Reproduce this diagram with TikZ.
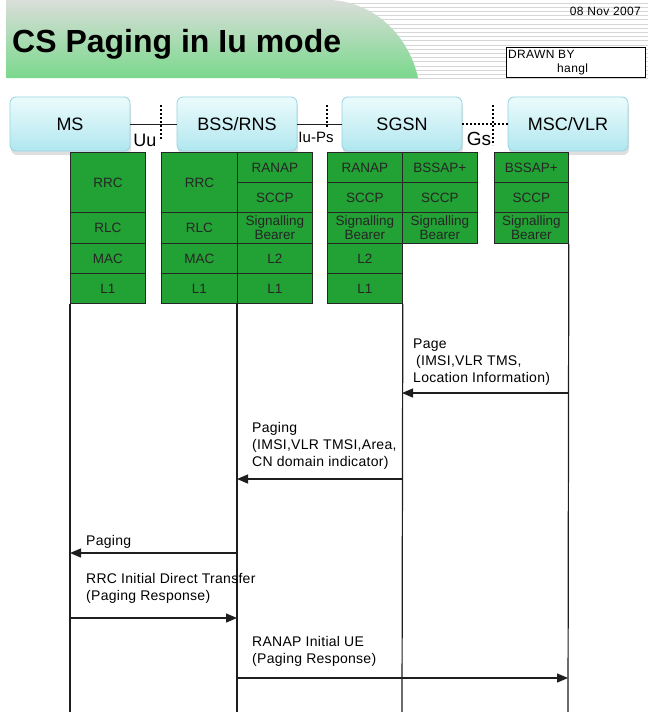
\documentclass[tikz,border=0pt]{standalone}
\usepackage{fontspec}
\setmainfont{Liberation Sans}
\newfontfamily\widefont[LetterSpace=3]{Liberation Sans}
\newfontfamily\msgfam[LetterSpace=2]{Liberation Sans}
\usetikzlibrary{arrows.meta,shadows}
\definecolor{stackgreen}{RGB}{34,161,52}
\definecolor{entTop}{RGB}{236,251,252}
\definecolor{entBot}{RGB}{176,231,239}
\definecolor{entDraw}{RGB}{150,212,225}
\definecolor{hdrTop}{RGB}{218,222,218}
\definecolor{hdrBot}{RGB}{122,216,140}
\definecolor{stripecol}{RGB}{214,214,214}
\definecolor{linecol}{RGB}{30,30,30}
\begin{document}
\begin{tikzpicture}[x=1pt,y=-1pt,
  ent/.style={rounded corners=6pt, minimum width=120pt, minimum height=54pt,
    top color=entTop, bottom color=entBot, draw=entDraw, line width=0.8pt,
    drop shadow={opacity=0.25, shadow xshift=1pt, shadow yshift=-4pt},
    font=\fontsize{18}{20}\selectfont, inner sep=0pt},
  cell/.style={draw=black!85, fill=stackgreen, line width=0.8pt, minimum width=75pt,
    minimum height=30pt, inner sep=0pt, anchor=north west, align=center,
    font=\fontsize{13.5}{15}\selectfont, text=black!85},
  link/.style={draw=linecol, line width=1pt},
  dotlink/.style={draw=black, line width=1.2pt, dash pattern=on 2pt off 2pt},
  life/.style={draw=linecol, line width=1.2pt},
  msg/.style={draw=linecol, line width=1.3pt, -{Triangle[length=11pt,width=9pt]}},
  lbl/.style={anchor=south west, inner sep=0pt, align=left,
    font=\msgfam\fontsize{14}{17}\selectfont},
  small/.style={inner sep=0pt, font=\widefont\fontsize{12}{14}\selectfont},
  stripe/.style={draw=stripecol, line width=1pt}]
\useasboundingbox (0,0) rectangle (650,712);
\fill[white] (0,0) rectangle (650,712);

% header
\foreach \i in {0,...,18} \draw[stripe] (280,{3+4.2*\i}) -- (648,{3+4.2*\i});
\shade[top color=hdrTop, bottom color=hdrBot] (6,0) -- (330,0) .. controls (378,2) and (410,40) .. (418,78) -- (6,78) -- cycle;
\node[anchor=base west, inner sep=0pt, font=\fontsize{32}{38}\selectfont\bfseries] (title) at (12,52) {CS Paging in Iu mode};
\node[small, anchor=base east] (date) at (641,15) {08 Nov 2007};
\node[draw=black, fill=white, line width=1pt, anchor=north west, minimum width=139pt, minimum height=30pt, inner sep=0pt] (drawnbox) at (506,47) {};
\node[small, anchor=base west] (drawnby) at (508,58) {DRAWN BY};
\node[small, anchor=base west] (author) at (557,72) {hangl};

% entities
\node[ent] (ms) at (70,124) {MS};
\node[ent] (bss) at (237,124) {BSS/RNS};
\node[ent] (sgsn) at (402,124) {SGSN};
\node[ent] (msc) at (568,124) {MSC/VLR};

\draw[link] (ms.east) -- (bss.west);
\draw[link] (bss.east) -- (sgsn.west);
\draw[dotlink] (sgsn.east) -- (msc.west);
\coordinate (uuT) at (161,105); \coordinate (uuB) at (161,140);
\coordinate (iuT) at (327,105); \coordinate (iuB) at (327,127);
\coordinate (gsT) at (493,105); \coordinate (gsB) at (493,145);
\draw[dotlink] (uuT) -- (uuB);
\draw[dotlink] (iuT) -- (iuB);
\draw[dotlink] (gsT) -- (gsB);
\node[inner sep=0pt, font=\fontsize{18}{20}\selectfont] (uu) at (145,140) {Uu};
\node[inner sep=0pt, font=\fontsize{15}{17}\selectfont] (iups) at (316,137) {Iu-Ps};
\node[inner sep=0pt, font=\fontsize{19}{21}\selectfont] (gs) at (479,139) {Gs};

% MS stack
\node[cell, minimum height=60pt] (msRRC) at (70,152) {RRC};
\node[cell, minimum height=31pt] (msRLC) at (70,212) {RLC};
\node[cell] (msMAC) at (70,243) {MAC};
\node[cell] (msL1) at (70,273) {L1};
% BSS/RNS stack
\node[cell, minimum width=76pt, minimum height=60pt] (bRRC) at (161,152) {RRC};
\node[cell, minimum width=76pt, minimum height=31pt] (bRLC) at (161,212) {RLC};
\node[cell, minimum width=76pt] (bMAC) at (161,243) {MAC};
\node[cell, minimum width=76pt] (bL1) at (161,273) {L1};
\node[cell] (bRANAP) at (237,152) {RANAP};
\node[cell] (bSCCP) at (237,182) {SCCP};
\node[cell, minimum height=31pt] (bSB) at (237,212) {Signalling\\[-1.5pt]Bearer};
\node[cell] (bL2) at (237,243) {L2};
\node[cell] (bRL1) at (237,273) {L1};
% SGSN stack
\node[cell] (sRANAP) at (327,152) {RANAP};
\node[cell] (sSCCP) at (327,182) {SCCP};
\node[cell, minimum height=31pt] (sSB) at (327,212) {Signalling\\[-1.5pt]Bearer};
\node[cell] (sL2) at (327,243) {L2};
\node[cell] (sL1) at (327,273) {L1};
\node[cell] (sBSSAP) at (402,152) {BSSAP+};
\node[cell] (sSCCP2) at (402,182) {SCCP};
\node[cell, minimum height=31pt] (sSB2) at (402,212) {Signalling\\[-1.5pt]Bearer};
% MSC/VLR stack
\node[cell, minimum width=74pt] (mBSSAP) at (494,152) {BSSAP+};
\node[cell, minimum width=74pt] (mSCCP) at (494,182) {SCCP};
\node[cell, minimum width=74pt, minimum height=31pt] (mSB) at (494,212) {Signalling\\[-1.5pt]Bearer};

% lifelines
\coordinate (msEnd) at (70,712);
\coordinate (bssEnd) at (237,712);
\coordinate (sgsnEnd) at (402,712);
\coordinate (mscEnd) at (568,712);
\draw[life] (msL1.south west) -- (msEnd);
\draw[life] (bRL1.south west) -- (bssEnd);
\draw[life] (sL1.south east) -- (sgsnEnd);
\draw[life] (mSB.south east) -- (mscEnd);

% messages
\coordinate (m1s) at (568,393); \coordinate (m1e) at (402,393);
\coordinate (m2s) at (402,479); \coordinate (m2e) at (237,479);
\coordinate (m3s) at (237,553); \coordinate (m3e) at (70,553);
\coordinate (m4s) at (70,618);  \coordinate (m4e) at (237,618);
\coordinate (m5s) at (237,678); \coordinate (m5e) at (568,678);
\draw[msg] (m1s) -- (m1e);
\draw[msg] (m2s) -- (m2e);
\draw[msg] (m3s) -- (m3e);
\draw[msg] (m4s) -- (m4e);
\draw[msg] (m5s) -- (m5e);
\node[lbl] (l1) at (413,386) {Page\\\hspace*{3pt}(IMSI,VLR TMS,\\Location Information)};
\node[lbl] (l2) at (252,470) {Paging\\(IMSI,VLR TMSI,Area,\\CN domain indicator)};
\node[lbl] (l3) at (86,549) {Paging};
\node[lbl] (l4) at (86,604) {RRC Initial Direct Transfer\\(Paging Response)};
\node[lbl] (l5) at (252,667) {RANAP Initial UE\\(Paging Response)};
\end{tikzpicture}
\end{document}
